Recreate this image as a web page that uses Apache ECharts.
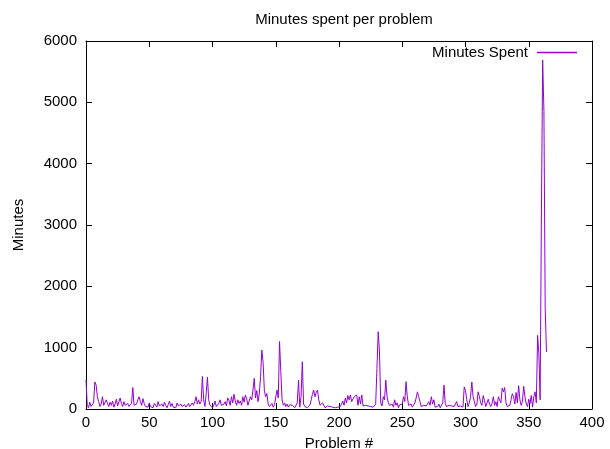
<!DOCTYPE html>
<html>
<head>
<meta charset="utf-8">
<script src="https://cdn.jsdelivr.net/npm/echarts@6/dist/echarts.min.js"></script>
<style>html,body{margin:0;padding:0;background:#fff}#c{width:610px;height:449px}</style>
</head>
<body>
<div id="c"></div>
<script>
const chartTitle = 'Minutes spent per problem';
const seriesName = 'Minutes Spent';
const xAxisName = 'Problem #';
const yAxisName = 'Minutes';
const xTicks = [0, 400, 50];
const yTicks = [0, 6000, 1000];
const minutes = [
  480, 60, 20, 110, 40, 30, 100, 440, 390, 200,
  120, 40, 80, 200, 60, 30, 150, 90, 40, 110,
  60, 130, 30, 80, 160, 50, 20, 180, 90, 40,
  120, 60, 30, 90, 40, 40, 90, 350, 60, 30,
  80, 150, 200, 120, 60, 170, 90, 40, 60, 30,
  100, 40, 70, 20, 90, 60, 30, 120, 50, 20,
  80, 40, 110, 60, 20, 70, 130, 40, 90, 30,
  60, 20, 100, 50, 30, 80, 40, 20, 70, 30,
  50, 90, 40, 20, 100, 60, 120, 200, 80, 150,
  80, 120, 530, 150, 40, 250, 520, 150, 60, 30,
  20, 60, 130, 40, 20, 90, 150, 60, 30, 80,
  120, 50, 180, 140, 60, 200, 100, 240, 130, 60,
  150, 90, 130, 60, 200, 110, 230, 170, 60, 130,
  200, 150, 310, 500, 180, 300, 120, 250, 530, 960,
  760, 300, 200, 250, 80, 40, 60, 90, 30, 70,
  40, 310, 180, 1100, 610, 150, 60, 100, 40, 80,
  30, 70, 40, 60, 30, 20, 50, 100, 470, 30,
  200, 770, 80, 40, 10, 20, 30, 60, 150, 240,
  310, 200, 270, 310, 150, 60, 40, 100, 80, 20,
  30, 50, 20, 40, 60, 30, 50, 20, 40, 30,
  60, 40, 80, 130, 60, 180, 100, 220, 150, 230,
  120, 90, 200, 170, 230, 60, 200, 80, 230, 50,
  40, 60, 30, 50, 20, 40, 60, 30, 40, 80,
  660, 1260, 930, 100, 50, 200, 150, 470, 200, 100,
  60, 40, 80, 30, 150, 60, 100, 20, 70, 40,
  80, 200, 120, 445, 200, 60, 40, 80, 30, 50,
  100, 180, 280, 200, 120, 40, 20, 60, 30, 50,
  40, 120, 60, 200, 80, 150, 30, 60, 40, 80,
  20, 60, 100, 390, 90, 40, 20, 60, 30, 50,
  80, 40, 60, 120, 40, 20, 50, 80, 30, 360,
  300, 150, 40, 100, 200, 440, 200, 120, 40, 80,
  280, 200, 100, 60, 220, 140, 40, 60, 160, 80,
  40, 90, 200, 60, 120, 40, 200, 150, 100, 340,
  280, 350, 100, 40, 20, 60, 150, 250, 200, 80,
  270, 100, 380, 150, 60, 120, 370, 200, 80, 40,
  160, 90, 220, 30, 200, 280, 100, 1200, 900, 150,
  3130, 5690, 4850, 1640, 930
];

const font = 'Liberation Sans, Arial, sans-serif';
const fs = 15;
const chart = echarts.init(document.getElementById('c'), null, {renderer: 'canvas'});
const frame = {show: true, onZero: false, lineStyle: {color: '#000', width: 1}};
const tick = {show: true, inside: true, length: 6, lineStyle: {color: '#000', width: 1}};
const lbl = {color: '#000', fontFamily: font, fontSize: fs, formatter: v => String(v)};
chart.setOption({
  animation: false,
  title: {text: chartTitle, left: 339, top: 7, textAlign: 'center',
    textStyle: {fontFamily: font, fontSize: fs, fontWeight: 'normal', color: '#000'}},
  legend: {right: 28, top: 40, align: 'right', icon: 'rect', itemWidth: 40, itemHeight: 1.5, itemGap: 10,
    textStyle: {fontFamily: font, fontSize: fs, color: '#000', padding: [0, 4, 0, 0]}, data: [seriesName]},
  grid: {left: 86, right: 18, top: 41, bottom: 40, containLabel: false, outerBoundsMode: 'none'},
  xAxis: [
    {type: 'value', min: xTicks[0], max: xTicks[1], interval: xTicks[2], position: 'bottom',
      name: xAxisName, nameLocation: 'middle', nameGap: 27,
      nameTextStyle: {fontFamily: font, fontSize: fs, color: '#000'},
      axisLine: frame, axisTick: tick, axisLabel: Object.assign({}, lbl, {margin: 6}), splitLine: {show: false}},
    {type: 'value', min: xTicks[0], max: xTicks[1], interval: xTicks[2], position: 'top',
      axisLine: frame, axisTick: tick, axisLabel: {show: false}, splitLine: {show: false}}
  ],
  yAxis: [
    {type: 'value', min: yTicks[0], max: yTicks[1], interval: yTicks[2], position: 'left',
      name: yAxisName, nameLocation: 'middle', nameGap: 60,
      nameTextStyle: {fontFamily: font, fontSize: fs, color: '#000'},
      axisLine: frame, axisTick: tick, axisLabel: Object.assign({}, lbl, {margin: 9}), splitLine: {show: false}},
    {type: 'value', min: yTicks[0], max: yTicks[1], interval: yTicks[2], position: 'right',
      axisLine: frame, axisTick: tick, axisLabel: {show: false}, splitLine: {show: false}}
  ],
  series: [{
    name: seriesName, type: 'line', xAxisIndex: 0, yAxisIndex: 0,
    showSymbol: false, symbol: 'none',
    color: '#9400d3',
    lineStyle: {color: '#9400d3', width: 1},
    data: minutes.map((v, i) => [i, v])
  }]
});
</script>
</body>
</html>
